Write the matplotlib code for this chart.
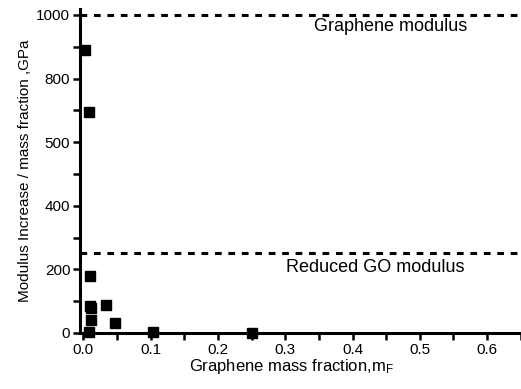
import matplotlib
matplotlib.use("Agg")
import matplotlib.pyplot as plt
from matplotlib.ticker import MultipleLocator, FixedLocator, FixedFormatter

# data
mass_fraction = [0.003, 0.009, 0.010, 0.010, 0.012, 0.034, 0.012, 0.047, 0.008, 0.103, 0.25]
modulus_ratio = [890, 695, 180, 85, 80, 88, 41, 31, 4, 3, 1]
graphene_modulus = 1000
rgo_modulus = 250
y_ticks = [0, 200, 400, 600, 800, 1000]
y_ticklabels = ["0", "200", "400", "500", "800", "1000"]

plt.rcParams["font.family"] = ["Liberation Sans", "DejaVu Sans"]

fig = plt.figure(figsize=(5.21, 3.89), dpi=100)
ax = fig.add_axes([0.1536, 0.144, 0.846, 0.834])

# reference lines
ax.axhline(graphene_modulus, color="black", lw=2.2, ls=(0, (2.2, 2.2)))
ax.axhline(rgo_modulus, color="black", lw=2.2, ls=(0, (2.2, 2.2)))
ax.text(0.456, 963, "Graphene modulus", ha="center", va="center", fontsize=13)
ax.text(0.433, 205, "Reduced GO modulus", ha="center", va="center", fontsize=13)

# data points
ax.plot(mass_fraction, modulus_ratio, "s", color="black", ms=7, clip_on=False, zorder=3)

ax.set_xlim(-0.005, 0.65)
ax.set_ylim(0, 1020)

ax.xaxis.set_major_locator(MultipleLocator(0.1))
ax.xaxis.set_minor_locator(MultipleLocator(0.05))
ax.yaxis.set_major_locator(FixedLocator(y_ticks))
ax.yaxis.set_major_formatter(FixedFormatter(y_ticklabels))
ax.yaxis.set_minor_locator(MultipleLocator(100))

ax.spines["top"].set_visible(False)
ax.spines["right"].set_visible(False)
for s in ["left", "bottom"]:
    ax.spines[s].set_linewidth(2.2)
ax.tick_params(which="both", direction="out", width=1.8, length=5, labelsize=11, pad=2)

ax.set_xlabel("Graphene mass fraction,m$\\mathregular{_F}$", fontsize=12, labelpad=2)
ax.xaxis.set_label_coords(0.48, -0.075)
ax.set_ylabel("Modulus Increase / mass fraction ,GPa", fontsize=11, labelpad=3)

plt.savefig("out.png", dpi=100)
